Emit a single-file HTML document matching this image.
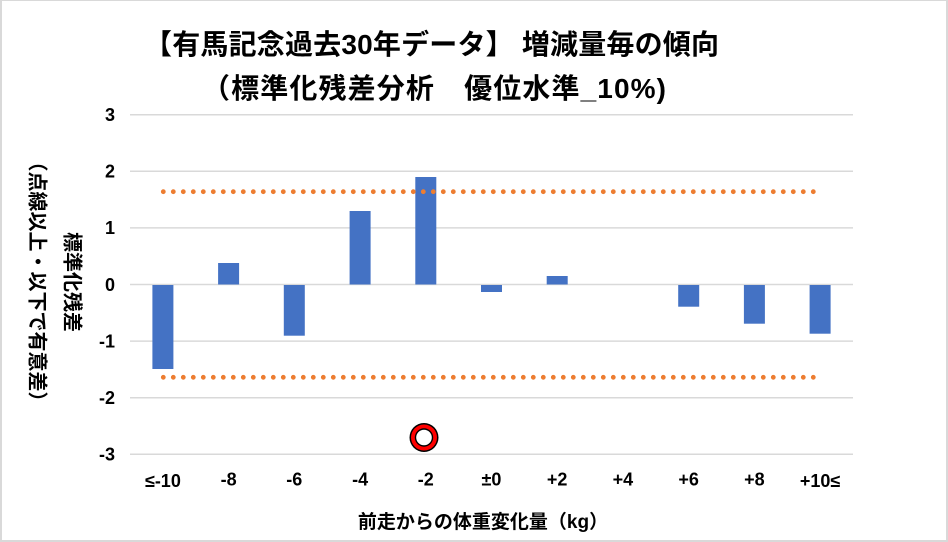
<!DOCTYPE html>
<html>
<head>
<meta charset="utf-8">
<style>
  html,body{margin:0;padding:0;background:#d9d9d9;}
  body{width:948px;height:542px;overflow:hidden;}
  svg{display:block;}
  text{font-family:"Liberation Sans","Noto Sans CJK JP",sans-serif;font-weight:bold;fill:#000;}
</style>
</head>
<body>
<svg width="948" height="542" viewBox="0 0 948 542" xmlns="http://www.w3.org/2000/svg">
  <rect x="0" y="0" width="948" height="542" fill="#d9d9d9"/>
  <rect x="2" y="1" width="944" height="539" fill="#ffffff"/>

  <!-- Title -->
  <text x="144" y="54" font-size="28" textLength="575" lengthAdjust="spacing">【有馬記念過去30年データ】 増減量毎の傾向</text>
  <text x="202" y="98" font-size="28" textLength="464" lengthAdjust="spacing">（標準化残差分析　優位水準_10%)</text>

  <!-- Gridlines -->
  <g stroke="#d9d9d9" stroke-width="1.5">
    <line x1="130" y1="114.7" x2="853" y2="114.7"/>
    <line x1="130" y1="171.3" x2="853" y2="171.3"/>
    <line x1="130" y1="227.9" x2="853" y2="227.9"/>
    <line x1="130" y1="284.5" x2="853" y2="284.5"/>
    <line x1="130" y1="341.1" x2="853" y2="341.1"/>
    <line x1="130" y1="397.7" x2="853" y2="397.7"/>
    <line x1="130" y1="454.3" x2="853" y2="454.3"/>
  </g>

  <!-- Y tick labels -->
  <g font-size="18" text-anchor="end">
    <text x="115" y="121">3</text>
    <text x="115" y="177.6">2</text>
    <text x="115" y="234.2">1</text>
    <text x="115" y="290.8">0</text>
    <text x="115" y="347.4">-1</text>
    <text x="115" y="404">-2</text>
    <text x="115" y="460.6">-3</text>
  </g>

  <!-- Bars -->
  <g fill="#4472C4">
    <rect x="152.4" y="285" width="21" height="84"/>
    <rect x="218.1" y="263" width="21" height="21.5"/>
    <rect x="283.8" y="285" width="21" height="50.7"/>
    <rect x="349.6" y="211" width="21" height="73.5"/>
    <rect x="415.3" y="177" width="21" height="107.5"/>
    <rect x="481" y="285" width="21" height="7"/>
    <rect x="546.7" y="276" width="21" height="8.5"/>
    <rect x="678.2" y="285" width="21" height="21.7"/>
    <rect x="743.9" y="285" width="21" height="38.7"/>
    <rect x="809.6" y="285" width="21" height="48.7"/>
  </g>

  <!-- Dotted significance lines -->
  <g stroke="#ED7D31" stroke-width="4.8" stroke-linecap="round" stroke-dasharray="0 10" fill="none">
    <line x1="163.3" y1="191.7" x2="813.7" y2="191.7"/>
    <line x1="163.3" y1="377.3" x2="813.7" y2="377.3"/>
  </g>

  <!-- Circle marker -->
  <circle cx="424" cy="437.5" r="14.5" fill="#000"/>
  <circle cx="424" cy="437.5" r="13" fill="#ff0000"/>
  <circle cx="424" cy="437.5" r="9.2" fill="#000"/>
  <circle cx="424" cy="437.5" r="7.8" fill="#ffffff"/>

  <!-- X tick labels -->
  <g font-size="18" text-anchor="middle">
    <text x="162.9" y="487">≤-10</text>
    <text x="228.6" y="485.5">-8</text>
    <text x="294.3" y="485.5">-6</text>
    <text x="360.1" y="485.5">-4</text>
    <text x="425.8" y="485.5">-2</text>
    <text x="491.5" y="485.5">±0</text>
    <text x="557.2" y="485.5">+2</text>
    <text x="622.9" y="485.5">+4</text>
    <text x="688.7" y="485.5">+6</text>
    <text x="754.4" y="485.5">+8</text>
    <text x="820.1" y="487">+10≤</text>
  </g>

  <!-- X axis title -->
  <text x="483" y="528" font-size="19" text-anchor="middle">前走からの体重変化量（kg）</text>

  <!-- Y axis titles (rotated) -->
  <text transform="translate(71.5,282) rotate(90)" font-size="20" text-anchor="middle" dominant-baseline="central">標準化残差</text>
  <text transform="translate(36.5,281.5) rotate(90)" font-size="20" text-anchor="middle" dominant-baseline="central">（点線以上・以下で有意差）</text>
</svg>
</body>
</html>
